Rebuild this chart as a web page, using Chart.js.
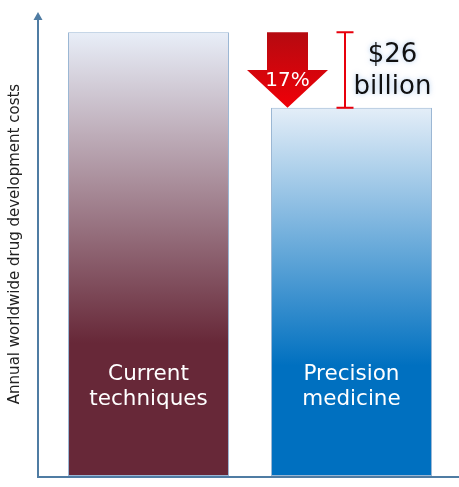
<!DOCTYPE html>
<html>
<head>
<meta charset="utf-8">
<script src="https://cdn.jsdelivr.net/npm/chart.js@4"></script>
<style>
  body { margin: 0; background: #fff; }
  #wrap { width: 459px; height: 487px; }
</style>
</head>
<body>
<div id="wrap"><canvas id="chart" width="459" height="487"></canvas></div>
<script>
// values (billions of USD, estimated)
const categories = [['Current', 'techniques'], ['Precision', 'medicine']];
const costs = [153, 127];
const yMax = 160;
const savingText = ['$26', 'billion'];
const savingPct = '17%';
const yTitle = 'Annual worldwide drug development costs';

const topColors = ['#e8eef8', '#e4eef8'];
const bottomColors = ['#672838', '#0070c0'];
const FONT = '"DejaVu Sans", Verdana, sans-serif';

function barFill(context) {
    const chart = context.chart;
    const i = context.dataIndex;
    if (!chart.chartArea) {
        return bottomColors[i];
    }
    const y = chart.scales.y;
    const top = y.getPixelForValue(context.raw);
    const bottom = y.getPixelForValue(0);
    const g = chart.ctx.createLinearGradient(0, top, 0, top + (bottom - top) * 0.7);
    g.addColorStop(0, topColors[i]);
    g.addColorStop(1, bottomColors[i]);
    return g;
}

// axis lines with arrow, bar labels and the saving annotation
const decorations = {
    id: 'decorations',
    afterDatasetsDraw(chart) {
        const ctx = chart.ctx;
        const area = chart.chartArea;
        const y = chart.scales.y;
        const bars = chart.getDatasetMeta(0).data;

        // axes
        const axisX = area.left - 9;
        const axisY = area.bottom + 1;
        ctx.save();
        ctx.strokeStyle = '#4f7ca3';
        ctx.fillStyle = '#4f7ca3';
        ctx.lineWidth = 2;
        ctx.beginPath();
        ctx.moveTo(axisX, axisY);
        ctx.lineTo(axisX, area.top + 6);
        ctx.moveTo(axisX - 1, axisY);
        ctx.lineTo(chart.width, axisY);
        ctx.stroke();
        ctx.beginPath();
        ctx.moveTo(axisX, area.top);
        ctx.lineTo(axisX - 4.5, area.top + 8);
        ctx.lineTo(axisX + 4.5, area.top + 8);
        ctx.closePath();
        ctx.fill();
        ctx.restore();

        // labels inside the bars
        ctx.save();
        ctx.fillStyle = '#ffffff';
        ctx.font = '21.5px ' + FONT;
        ctx.textAlign = 'center';
        ctx.textBaseline = 'alphabetic';
        bars.forEach((bar, i) => {
            ctx.fillText(categories[i][0], bar.x, area.bottom - 96);
            ctx.fillText(categories[i][1], bar.x, area.bottom - 71);
        });
        ctx.restore();

        // down arrow
        const top = y.getPixelForValue(costs[0]);
        const tip = y.getPixelForValue(costs[1]);
        const mid = (top + tip) / 2;
        const ax = bars[1].x - 64;
        ctx.save();
        const rg = ctx.createLinearGradient(0, top, 0, tip);
        rg.addColorStop(0, '#b50a10');
        rg.addColorStop(1, '#f00008');
        ctx.fillStyle = rg;
        ctx.beginPath();
        ctx.moveTo(ax - 20.5, top);
        ctx.lineTo(ax + 20.5, top);
        ctx.lineTo(ax + 20.5, mid);
        ctx.lineTo(ax + 40.5, mid);
        ctx.lineTo(ax, tip);
        ctx.lineTo(ax - 40.5, mid);
        ctx.lineTo(ax - 20.5, mid);
        ctx.closePath();
        ctx.fill();
        ctx.fillStyle = '#ffffff';
        ctx.font = '20px ' + FONT;
        ctx.textAlign = 'center';
        ctx.fillText(savingPct, ax, mid + 15.5);
        ctx.restore();

        // bracket
        const bx = bars[1].x - 6.5;
        ctx.save();
        ctx.strokeStyle = '#e8000c';
        ctx.lineWidth = 2;
        ctx.beginPath();
        ctx.moveTo(bx, top);
        ctx.lineTo(bx, tip);
        ctx.moveTo(bx - 8.5, top);
        ctx.lineTo(bx + 8.5, top);
        ctx.moveTo(bx - 8.5, tip);
        ctx.lineTo(bx + 8.5, tip);
        ctx.stroke();
        ctx.restore();

        // saving text
        ctx.save();
        ctx.fillStyle = '#111111';
        ctx.font = '26px ' + FONT;
        ctx.textAlign = 'center';
        ctx.shadowColor = 'rgba(140, 180, 230, 0.7)';
        ctx.shadowBlur = 5;
        ctx.fillText(savingText[0], bars[1].x + 41, top + 30);
        ctx.fillText(savingText[1], bars[1].x + 41, top + 62);
        ctx.restore();
    }
};

new Chart(document.getElementById('chart'), {
    type: 'bar',
    data: {
        labels: categories,
        datasets: [{
            data: costs,
            backgroundColor: barFill,
            borderColor: '#9bb7d4',
            borderWidth: 1,
            borderSkipped: false,
            barPercentage: 0.793,
            categoryPercentage: 1
        }]
    },
    options: {
        responsive: false,
        animation: false,
        layout: { padding: { left: 0, right: 6, top: 12, bottom: 11 } },
        plugins: {
            legend: { display: false },
            tooltip: { enabled: false }
        },
        scales: {
            x: { display: false },
            y: {
                min: 0,
                max: yMax,
                grid: { display: false, drawTicks: false },
                border: { display: false },
                ticks: { display: false },
                title: {
                    display: true,
                    text: yTitle,
                    color: '#222222',
                    font: { family: FONT, size: 15 },
                    padding: { top: 6, bottom: 23 }
                }
            }
        }
    },
    plugins: [decorations]
});
</script>
</body>
</html>
